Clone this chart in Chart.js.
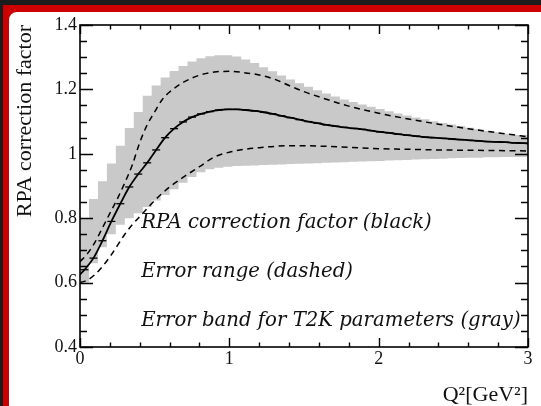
<!DOCTYPE html>
<html>
<head>
<meta charset="utf-8">
<script src="https://cdn.jsdelivr.net/npm/chart.js@4.4.0/dist/chart.umd.min.js"></script>
<style>
    html, body { margin: 0; padding: 0; background: #fff; }
    canvas { display: block; }
</style>
</head>
<body>
<canvas id="rpaChart" width="541" height="406"></canvas>
<script>
// RPA correction factor vs Q^2 (GeV^2)

// gray error band, one value per Q^2 bin (bin width below)
const binWidth = 0.06;
const bandUpper = [
    0.74, 0.80, 0.86, 0.915, 0.97, 1.025, 1.08, 1.13, 1.18, 1.212,
    1.237, 1.257, 1.273, 1.287, 1.297, 1.303, 1.306, 1.306, 1.302, 1.293,
    1.282, 1.269, 1.256, 1.243, 1.231, 1.219, 1.208, 1.197, 1.187, 1.178,
    1.169, 1.161, 1.153, 1.146, 1.139, 1.132, 1.125, 1.119, 1.113, 1.107,
    1.101, 1.096, 1.091, 1.086, 1.081, 1.076, 1.071, 1.067, 1.062, 1.058
];
const bandLower = [
    0.52, 0.60, 0.66, 0.71, 0.75, 0.78, 0.80, 0.815, 0.835, 0.855,
    0.872, 0.89, 0.91, 0.928, 0.943, 0.952, 0.957, 0.96, 0.962, 0.963,
    0.964, 0.965, 0.966, 0.967, 0.968, 0.969, 0.970, 0.971, 0.972, 0.973,
    0.974, 0.975, 0.976, 0.977, 0.978, 0.979, 0.980, 0.981, 0.982, 0.983,
    0.984, 0.985, 0.986, 0.987, 0.988, 0.988, 0.989, 0.989, 0.990, 0.990
];

// central RPA curve, at the bin centres, plus its values at Q2 = 0 and 3
const rpaCentral = [
    0.64, 0.676, 0.73, 0.79, 0.845, 0.897, 0.937, 0.972, 1.012, 1.05,
    1.078, 1.099, 1.114, 1.124, 1.131, 1.136, 1.138, 1.138, 1.136, 1.133,
    1.129, 1.124, 1.118, 1.112, 1.106, 1.100, 1.095, 1.090, 1.086, 1.082,
    1.079, 1.076, 1.072, 1.068, 1.065, 1.061, 1.058, 1.055, 1.052, 1.050,
    1.048, 1.046, 1.044, 1.042, 1.040, 1.038, 1.037, 1.036, 1.034, 1.033
];
const rpaEnds = [0.625, 1.032];

// dashed error range
const dashQ2 = [0, 0.05, 0.1, 0.15, 0.2, 0.25, 0.3, 0.35, 0.4, 0.45, 0.5, 0.55, 0.6, 0.7, 0.8,
    0.9, 1.0, 1.1, 1.2, 1.3, 1.4, 1.5, 1.6, 1.8, 2.0, 2.2, 2.4, 2.6, 2.8, 3.0];
const dashUpper = [0.665, 0.69, 0.725, 0.77, 0.815, 0.86, 0.91, 0.965, 1.035, 1.09, 1.13, 1.168, 1.192, 1.224, 1.244,
    1.254, 1.256, 1.252, 1.245, 1.232, 1.212, 1.193, 1.177, 1.148, 1.126, 1.108, 1.092, 1.078, 1.065, 1.053];
const dashLower = [0.60, 0.608, 0.625, 0.65, 0.68, 0.715, 0.75, 0.78, 0.805, 0.83, 0.855, 0.877, 0.897, 0.93, 0.96,
    0.99, 1.005, 1.014, 1.019, 1.023, 1.025, 1.025, 1.024, 1.02, 1.016, 1.014, 1.012, 1.011, 1.010, 1.009];

const xTicks = [0, 1, 2, 3];
const yTicks = [0.4, 0.6, 0.8, 1, 1.2, 1.4];
const notes = ['RPA correction factor (black)', 'Error range (dashed)', 'Error band for T2K parameters (gray)'];

const serif = "'Liberation Serif', 'Times New Roman', serif";
const noteFont = "'DejaVu Serif', serif";

// histogram style steps: one point per bin edge
const stepData = vals => vals.map((v, i) => ({ x: i * binWidth, y: v }))
    .concat([{ x: vals.length * binWidth, y: vals[vals.length - 1] }]);

const centralData = [{ x: 0, y: rpaEnds[0] }]
    .concat(rpaCentral.map((v, i) => ({ x: (i + 0.5) * binWidth, y: v })))
    .concat([{ x: 3, y: rpaEnds[1] }]);

// red slide border behind the plot
const backdrop = {
    id: 'backdrop',
    beforeDraw(chart) {
        const ctx = chart.ctx;
        ctx.save();
        ctx.fillStyle = '#ffffff';
        ctx.fillRect(0, 0, chart.width, chart.height);
        ctx.fillStyle = '#1c1c1c';
        ctx.fillRect(0, 0, chart.width, 5);
        ctx.fillRect(0, 0, 3, chart.height);
        ctx.fillStyle = '#cc0000';
        ctx.fillRect(3, 5, chart.width, 7);
        ctx.fillRect(3, 5, 6, chart.height);
        // rounded inner corner
        ctx.beginPath();
        ctx.moveTo(9, 20);
        ctx.arcTo(9, 12, 17, 12, 8);
        ctx.lineTo(9, 12);
        ctx.closePath();
        ctx.fill();
        ctx.restore();
    }
};

// ROOT-like frame with inward ticks on all four sides, plus the text notes
const frame = {
    id: 'frame',
    afterDraw(chart) {
        const { ctx, chartArea: a, scales: { x, y } } = chart;
        ctx.save();

        // notes: size picked so the first line spans the same width as the original
        ctx.fillStyle = '#111';
        ctx.font = 'italic 20px ' + noteFont;
        const size = 20 * 291 / ctx.measureText(notes[0]).width;
        ctx.font = 'italic ' + size.toFixed(1) + 'px ' + noteFont;
        ctx.textBaseline = 'alphabetic';
        const noteY = [0.77, 0.617, 0.465];
        notes.forEach((t, i) => ctx.fillText(t, x.getPixelForValue(0.41), y.getPixelForValue(noteY[i])));

        ctx.strokeStyle = '#000';
        ctx.lineWidth = 1.6;
        ctx.strokeRect(a.left, a.top, a.right - a.left, a.bottom - a.top);

        ctx.lineWidth = 1.4;
        ctx.beginPath();
        for (let v = 0.4; v <= 1.4001; v += 0.05) {
            const py = Math.round(y.getPixelForValue(v)) + 0.5;
            const major = yTicks.some(t => Math.abs(t - v) < 1e-6);
            const len = major ? 13 : 7;
            ctx.moveTo(a.left, py); ctx.lineTo(a.left + len, py);
            ctx.moveTo(a.right, py); ctx.lineTo(a.right - len, py);
        }
        for (let v = 0; v <= 3.0001; v += 0.2) {
            const px = Math.round(x.getPixelForValue(v)) + 0.5;
            const major = xTicks.some(t => Math.abs(t - v) < 1e-6);
            const len = major ? 9 : 4.5;
            ctx.moveTo(px, a.bottom); ctx.lineTo(px, a.bottom - len);
            ctx.moveTo(px, a.top); ctx.lineTo(px, a.top + len);
        }
        ctx.stroke();
        ctx.restore();
    }
};

const tickFmt = v => String(+v.toFixed(2));

new Chart(document.getElementById('rpaChart'), {
    type: 'line',
    data: {
        datasets: [
            {
                data: stepData(bandUpper),
                stepped: 'after',
                borderWidth: 0,
                pointRadius: 0,
                backgroundColor: 'rgb(201, 201, 201)',
                fill: '+1',
                order: 10
            },
            {
                data: stepData(bandLower),
                stepped: 'after',
                borderWidth: 0,
                pointRadius: 0,
                fill: false,
                order: 11
            },
            {
                data: centralData,
                borderColor: '#000',
                borderWidth: 1.8,
                cubicInterpolationMode: 'monotone',
                pointStyle: 'line',
                pointRadius: ctx => (ctx.dataIndex === 0 || ctx.dataIndex === centralData.length - 1) ? 0 : 4,
                pointBorderColor: '#000',
                pointBorderWidth: 1.3,
                fill: false,
                order: 1
            },
            {
                data: dashQ2.map((q, i) => ({ x: q, y: dashUpper[i] })),
                borderColor: '#000',
                borderWidth: 1.5,
                borderDash: [6, 4.5],
                cubicInterpolationMode: 'monotone',
                pointRadius: 0,
                fill: false,
                order: 2
            },
            {
                data: dashQ2.map((q, i) => ({ x: q, y: dashLower[i] })),
                borderColor: '#000',
                borderWidth: 1.5,
                borderDash: [6, 4.5],
                cubicInterpolationMode: 'monotone',
                pointRadius: 0,
                fill: false,
                order: 2
            }
        ]
    },
    options: {
        responsive: false,
        animation: false,
        devicePixelRatio: 1,
        layout: { padding: { top: 25, right: 13, left: 0, bottom: 0 } },
        plugins: {
            legend: { display: false },
            tooltip: { enabled: false },
            filler: { drawTime: 'beforeDatasetsDraw' }
        },
        scales: {
            x: {
                type: 'linear',
                min: 0,
                max: 3,
                afterBuildTicks: s => { s.ticks = xTicks.map(v => ({ value: v })); },
                afterFit: s => { s.height = 59; },
                grid: { display: false, drawTicks: false },
                border: { display: false },
                ticks: { font: { family: serif, size: 18 }, color: '#111', padding: 1, maxRotation: 0, callback: tickFmt },
                title: {
                    display: true,
                    text: 'Q²[GeV²]',
                    align: 'end',
                    color: '#111',
                    font: { family: serif, size: 22, lineHeight: 1 },
                    padding: { top: 0, bottom: 0 }
                }
            },
            y: {
                min: 0.4,
                max: 1.4,
                afterBuildTicks: s => { s.ticks = yTicks.map(v => ({ value: v })); },
                afterFit: s => { s.width = 80; },
                grid: { display: false, drawTicks: false },
                border: { display: false },
                ticks: { font: { family: serif, size: 18 }, color: '#111', padding: 3, callback: tickFmt },
                title: {
                    display: true,
                    text: 'RPA correction factor',
                    align: 'end',
                    color: '#111',
                    font: { family: serif, size: 22, lineHeight: 1 },
                    padding: { top: 14, bottom: 0 }
                }
            }
        }
    },
    plugins: [backdrop, frame]
});
</script>
</body>
</html>
